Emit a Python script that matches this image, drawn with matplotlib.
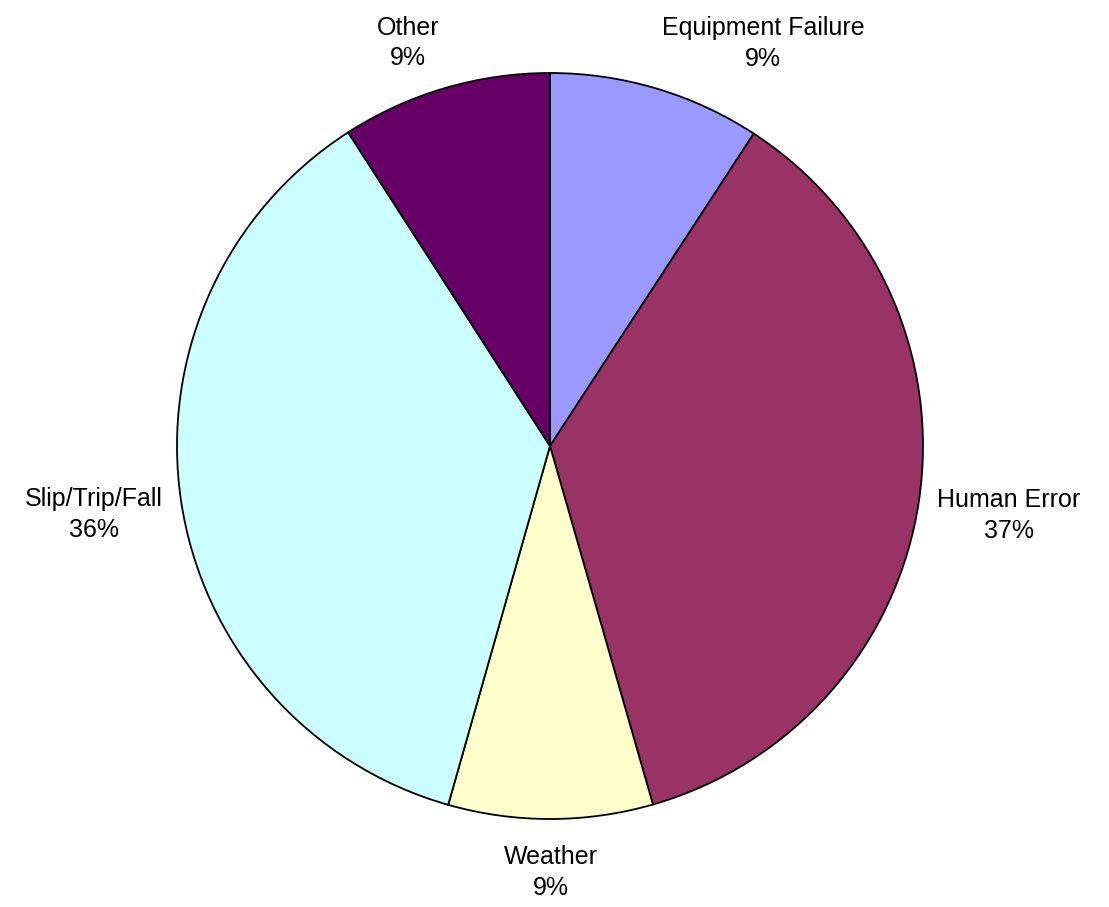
import matplotlib
matplotlib.use("Agg")
import matplotlib.pyplot as plt
import numpy as np

categories = ["Equipment Failure", "Human Error", "Weather", "Slip/Trip/Fall", "Other"]
values = [9.2, 36.35, 8.85, 36.5, 9.1]
pct_labels = ["9%", "37%", "9%", "36%", "9%"]
colors = ["#9999FF", "#993366", "#FFFFCC", "#CCFFFF", "#660066"]

plt.rcParams['font.family'] = ['Liberation Sans', 'DejaVu Sans']

W, H = 1109, 907
fig = plt.figure(figsize=(W / 100, H / 100), dpi=100)
R = 373.0
cx, cy = 550.0, 907 - 446.0
pad = 12.0
ax = fig.add_axes([(cx - R - pad) / W, (cy - R - pad) / H, 2 * (R + pad) / W, 2 * (R + pad) / H])

wedges, _ = ax.pie(values, colors=colors, startangle=90, counterclock=False,
                   wedgeprops=dict(edgecolor="black", linewidth=1.3))
lim = 1 + pad / R
ax.set_xlim(-lim, lim)
ax.set_ylim(-lim, lim)
ax.set_aspect("equal")
ax.axis("off")

for w, name, pct in zip(wedges, categories, pct_labels):
    mid = np.deg2rad((w.theta1 + w.theta2) / 2)
    x, y = np.cos(mid), np.sin(mid)
    d = 1.05
    ha = "left" if x > 0.1 else ("right" if x < -0.1 else "center")
    va = "bottom" if y > 0.5 else ("top" if y < -0.5 else "center")
    dy = -0.03 if va == "center" else 0.0
    if va == "top":
        dy = -0.02
    ax.text(d * x, d * y + dy, f"{name}\n{pct}", ha=ha, va=va,
            multialignment="center", fontsize=18, linespacing=1.35)

fig.savefig("out.png", dpi=100)
